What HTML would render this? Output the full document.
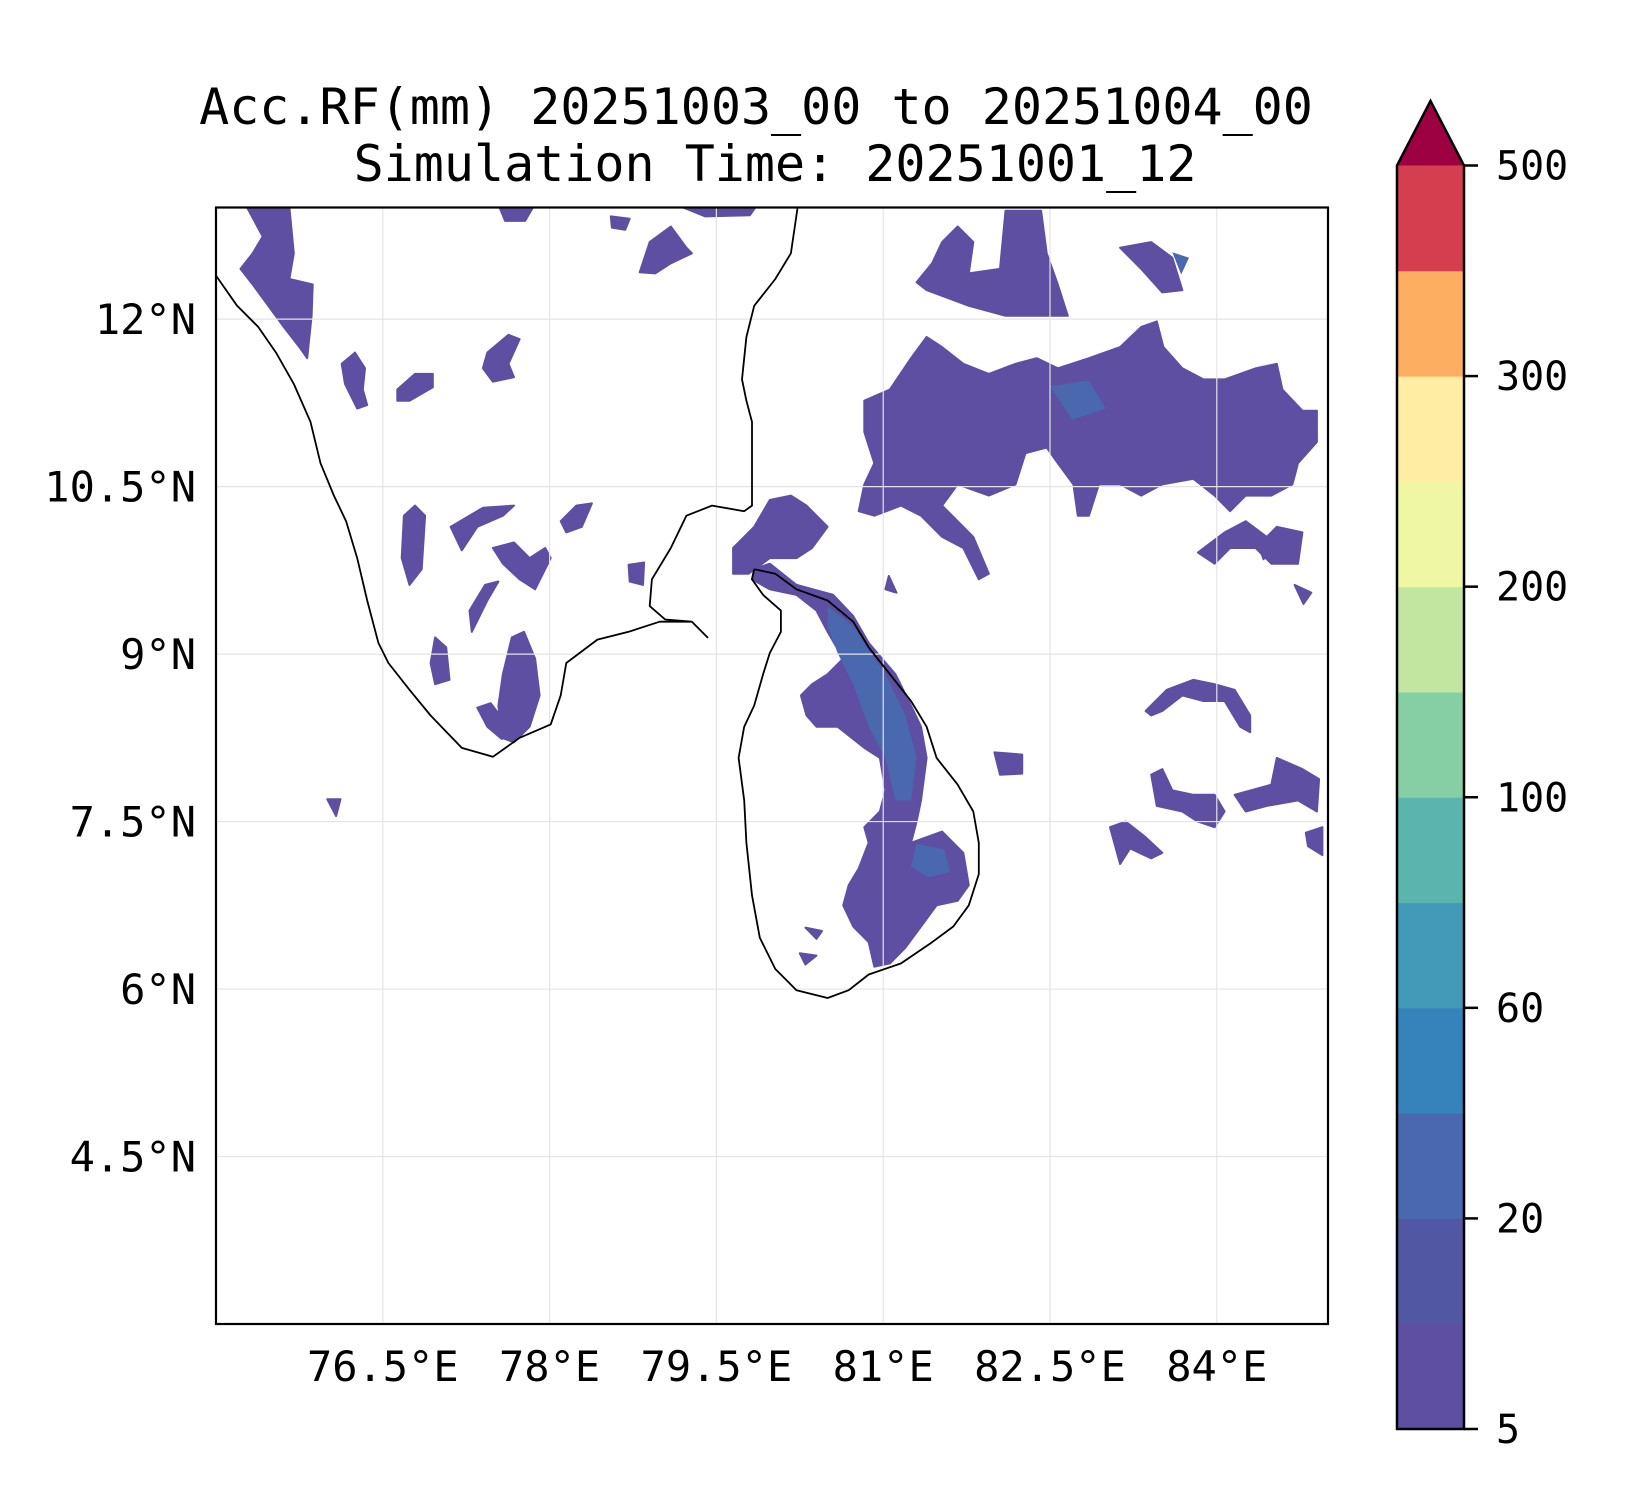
<!DOCTYPE html>
<html><head><meta charset="utf-8"><style>
html,body{margin:0;padding:0;background:#fff;}
svg{display:block;}
text{font-family:"DejaVu Sans Mono","Liberation Mono",monospace;fill:#000;}
</style></head><body>
<svg id="chart" width="1650" height="1500" viewBox="0 0 1650 1500">
<text x="756" y="124" font-size="50" text-anchor="middle">Acc.RF(mm) 20251003_00 to 20251004_00</text>
<text x="775" y="181" font-size="50" text-anchor="middle">Simulation Time: 20251001_12</text>
<g id="map"></g>
<g id="cbar"></g>
</svg>
<script>
const lonTicks=[76.5,78,79.5,81,82.5,84];
const lonLabels=["76.5°E","78°E","79.5°E","81°E","82.5°E","84°E"];
const latTicks=[12,10.5,9,7.5,6,4.5];
const latLabels=["12°N","10.5°N","9°N","7.5°N","6°N","4.5°N"];
const cbLevels=[5,10,20,30,60,80,100,150,200,250,300,400,500];
const cbLabels=["5","","20","","60","","100","","200","","300","","500"];
const cbColors=["#5e4fa2","#5257a3","#4a68ae","#3683bb","#4399b8","#5bb4ad","#86cfa5","#c2e69f","#eff7a5","#feeda2","#fdae61","#d53e4f"];
const cbExtend="#9e0142";
const indiaCoast=[[75,12.39],[75.19,12.12],[75.38,11.93],[75.54,11.70],[75.70,11.42],[75.85,11.08],[75.94,10.71],[76.06,10.42],[76.17,10.19],[76.27,9.86],[76.36,9.48],[76.46,9.10],[76.55,8.92],[76.74,8.68],[76.93,8.45],[77.21,8.16],[77.49,8.08],[77.73,8.25],[78.01,8.37],[78.10,8.63],[78.15,8.92],[78.43,9.13],[78.71,9.20],[78.99,9.29],[79.28,9.29],[79.42,9.15],[79.28,9.29],[79.04,9.31],[78.90,9.43],[78.92,9.67],[79.09,9.95],[79.23,10.24],[79.46,10.33],[79.75,10.28],[79.82,10.33],[79.82,11.08],[79.77,11.27],[79.73,11.46],[79.77,11.84],[79.84,12.12],[80.03,12.36],[80.17,12.59],[80.23,13]];
const lankaCoast=[[79.84,9.76],[80.03,9.72],[80.22,9.58],[80.50,9.48],[80.73,9.29],[80.87,9.06],[81.06,8.82],[81.25,8.58],[81.39,8.35],[81.48,8.07],[81.67,7.83],[81.81,7.59],[81.86,7.31],[81.86,7.03],[81.77,6.75],[81.63,6.56],[81.44,6.42],[81.16,6.23],[80.87,6.13],[80.69,5.99],[80.50,5.92],[80.22,5.99],[80.03,6.18],[79.89,6.46],[79.82,6.84],[79.77,7.31],[79.75,7.69],[79.70,8.07],[79.75,8.35],[79.84,8.54],[79.92,8.82],[79.98,9.01],[80.08,9.20],[80.08,9.39],[79.92,9.53],[79.82,9.67]];
const rainLight=[
[[75.28,13],[75.66,13],[75.70,12.59],[75.66,12.36],[75.87,12.31],[75.86,12.03],[75.82,11.65],[75.75,11.75],[75.61,11.93],[75.47,12.12],[75.33,12.31],[75.22,12.45],[75.33,12.59],[75.42,12.74]],
[[78.90,12.69],[79.09,12.83],[79.23,12.64],[79.28,12.59],[79.09,12.50],[78.95,12.41],[78.81,12.42]],
[[77.44,11.70],[77.63,11.86],[77.73,11.82],[77.63,11.60],[77.68,11.48],[77.49,11.44],[77.40,11.56]],
[[76.13,11.60],[76.25,11.70],[76.34,11.56],[76.32,11.37],[76.36,11.23],[76.27,11.20],[76.16,11.42]],
[[76.63,11.37],[76.79,11.51],[76.95,11.51],[76.95,11.39],[76.74,11.27],[76.63,11.27]],
[[76.69,10.24],[76.79,10.33],[76.88,10.24],[76.85,9.76],[76.74,9.62],[76.67,9.86]],
[[77.11,10.14],[77.40,10.31],[77.68,10.33],[77.58,10.24],[77.35,10.14],[77.21,9.93]],
[[77.49,9.95],[77.68,10.0],[77.82,9.86],[77.96,9.95],[78.01,9.86],[77.87,9.58],[77.73,9.67],[77.58,9.81]],
[[78.10,10.19],[78.24,10.33],[78.38,10.35],[78.29,10.14],[78.15,10.09]],
[[77.66,9.15],[77.77,9.20],[77.87,8.96],[77.91,8.63],[77.82,8.35],[77.68,8.21],[77.57,8.25],[77.54,8.54],[77.58,8.82]],
[[76.97,9.15],[77.07,9.06],[77.10,8.77],[76.97,8.73],[76.93,8.92]],
[[77.28,9.39],[77.42,9.62],[77.54,9.65],[77.44,9.48],[77.30,9.20]],
[[77.35,8.52],[77.47,8.56],[77.63,8.35],[77.57,8.24],[77.44,8.35]],
[[79.84,9.76],[79.98,9.81],[80.22,9.62],[80.55,9.53],[80.73,9.34],[80.87,9.10],[81.11,8.82],[81.25,8.54],[81.34,8.35],[81.39,8.07],[81.34,7.69],[81.30,7.50],[81.25,7.31],[81.53,7.41],[81.72,7.22],[81.77,6.93],[81.67,6.79],[81.48,6.75],[81.34,6.56],[81.20,6.37],[81.06,6.23],[80.92,6.20],[80.87,6.42],[80.73,6.56],[80.64,6.75],[80.69,6.93],[80.78,7.08],[80.87,7.31],[80.83,7.45],[80.97,7.59],[81.02,7.78],[80.97,8.07],[80.83,8.16],[80.59,8.35],[80.40,8.35],[80.31,8.45],[80.26,8.63],[80.36,8.73],[80.50,8.82],[80.64,8.96],[80.50,9.20],[80.40,9.39],[80.22,9.53],[79.98,9.58],[79.82,9.67]],
[[79.65,9.95],[79.84,10.14],[79.98,10.38],[80.17,10.42],[80.31,10.33],[80.50,10.14],[80.36,9.95],[80.22,9.86],[79.98,9.86],[79.79,9.72],[79.65,9.72]],
[[81.44,12.5],[81.53,12.69],[81.67,12.83],[81.81,12.69],[81.77,12.41],[82.05,12.45],[82.10,12.97],[82.42,12.97],[82.47,12.59],[82.57,12.31],[82.66,12.03],[82.38,12.03],[82.10,12.03],[81.77,12.12],[81.39,12.26],[81.30,12.33]],
[[83.13,12.64],[83.41,12.69],[83.60,12.55],[83.69,12.26],[83.51,12.24],[83.32,12.45]],
[[80.83,11.27],[81.06,11.37],[81.25,11.65],[81.39,11.84],[81.53,11.75],[81.72,11.60],[81.95,11.51],[82.19,11.60],[82.38,11.65],[82.57,11.56],[82.85,11.65],[83.13,11.75],[83.32,11.93],[83.46,11.98],[83.52,11.75],[83.69,11.56],[83.88,11.46],[84.07,11.46],[84.35,11.56],[84.54,11.60],[84.59,11.37],[84.77,11.18],[84.90,11.18],[84.90,10.90],[84.73,10.71],[84.68,10.52],[84.49,10.42],[84.26,10.42],[84.12,10.28],[83.98,10.42],[83.79,10.57],[83.51,10.52],[83.32,10.42],[83.13,10.52],[82.94,10.52],[82.85,10.24],[82.75,10.24],[82.71,10.52],[82.57,10.71],[82.47,10.85],[82.28,10.80],[82.19,10.52],[81.95,10.42],[81.67,10.52],[81.53,10.33],[81.81,10.05],[81.95,9.72],[81.86,9.67],[81.72,9.95],[81.53,10.05],[81.34,10.24],[81.16,10.33],[80.92,10.24],[80.78,10.28],[80.83,10.52],[80.92,10.71],[80.83,10.99]],
[[83.83,9.91],[84.07,10.09],[84.26,10.19],[84.45,10.05],[84.54,10.14],[84.77,10.09],[84.73,9.81],[84.49,9.81],[84.35,9.95],[84.12,9.95],[83.98,9.81]],
[[83.36,8.49],[83.55,8.68],[83.79,8.77],[83.98,8.73],[84.16,8.68],[84.30,8.45],[84.30,8.30],[84.21,8.35],[84.07,8.58],[83.88,8.58],[83.69,8.63],[83.51,8.49],[83.41,8.45]],
[[83.41,7.92],[83.51,7.97],[83.60,7.78],[83.79,7.74],[83.98,7.74],[84.07,7.59],[83.98,7.45],[83.83,7.50],[83.69,7.59],[83.46,7.64]],
[[84.16,7.74],[84.49,7.83],[84.54,8.07],[84.77,7.97],[84.92,7.88],[84.90,7.59],[84.73,7.69],[84.45,7.64],[84.26,7.59]],
[[83.04,7.45],[83.18,7.50],[83.36,7.36],[83.51,7.22],[83.41,7.17],[83.22,7.26],[83.13,7.12]],
[[82.0,8.12],[82.25,8.10],[82.25,7.93],[82.05,7.92]],
[[84.80,7.40],[84.95,7.45],[84.95,7.20],[84.82,7.28]],
[[76.0,7.70],[76.12,7.70],[76.08,7.55]],
[[78.71,9.80],[78.85,9.82],[78.84,9.62],[78.72,9.65]],
[[77.55,13],[77.85,13],[77.78,12.88],[77.60,12.88]],
[[78.55,12.92],[78.72,12.90],[78.68,12.80],[78.56,12.82]],
[[79.20,13],[79.85,13],[79.80,12.93],[79.40,12.92]],
[[84.35,10.05],[84.50,9.95],[84.42,9.85]],
[[84.70,9.62],[84.85,9.55],[84.78,9.45]],
[[80.30,6.55],[80.45,6.52],[80.40,6.45]],
[[80.25,6.32],[80.40,6.30],[80.30,6.22]],
[[81.05,9.70],[81.12,9.55],[81.02,9.58]]
];
const rainDark=[
[[80.50,9.43],[80.73,9.25],[81.02,8.82],[81.20,8.45],[81.30,8.07],[81.25,7.69],[81.11,7.69],[81.02,8.07],[80.87,8.35],[80.73,8.73],[80.59,9.01],[80.50,9.25]],
[[81.30,7.30],[81.55,7.25],[81.60,7.05],[81.40,7.00],[81.25,7.10]],
[[82.50,11.40],[82.85,11.45],[83.0,11.2],[82.7,11.1]],
[[83.75,12.55],[83.60,12.60],[83.68,12.40]]
];
const NS="http://www.w3.org/2000/svg";
const L=216,T=207.5,W=1112,H=1116.5;
const X=lon=>L+(lon-75)/10*W;
const Y=lat=>T+(13-lat)/10*H;
const map=document.getElementById('map');
const cbar=document.getElementById('cbar');
function mk(tag,attrs,parent){const e=document.createElementNS(NS,tag);for(const k in attrs)e.setAttribute(k,attrs[k]);parent.appendChild(e);return e;}
const pts=p=>p.map(q=>X(q[0]).toFixed(1)+","+Y(q[1]).toFixed(1)).join(" ");
const defs=mk('defs',{},map);
const cp=mk('clipPath',{id:'ax'},defs);
mk('rect',{x:L,y:T,width:W,height:H},cp);
const g=mk('g',{'clip-path':'url(#ax)'},map);
rainLight.forEach(p=>{
  const e=mk('polygon',{points:pts(p),fill:cbColors[0],stroke:cbColors[0],'stroke-width':2,'stroke-linejoin':'round'},g);
  
  
});
rainDark.forEach(p=>{
  const e=mk('polygon',{points:pts(p),fill:cbColors[2],'stroke-linejoin':'round'},g);
  
  
});
lonTicks.forEach(v=>{
  const e=mk('line',{x1:X(v),x2:X(v),y1:T,y2:T+H,stroke:'#e4e4e4','stroke-width':1.2},g);
  
  
});
latTicks.forEach(v=>{
  const e=mk('line',{x1:L,x2:L+W,y1:Y(v),y2:Y(v),stroke:'#e4e4e4','stroke-width':1.2},g);
  
  
});
[indiaCoast,lankaCoast].forEach((c,i)=>{
  const e=mk('polyline',{points:pts(c)+(i?" "+pts([c[0]]):""),fill:'none',stroke:'#000','stroke-width':1.8,'stroke-linejoin':'round'},g);
  
  
});
const fr=mk('rect',{x:L,y:T,width:W,height:H,fill:'none',stroke:'#000','stroke-width':2.2},map);


lonTicks.forEach((v,i)=>{
  const t=mk('text',{x:X(v),y:1381,'font-size':42,'text-anchor':'middle'},map);
  t.textContent=lonLabels[i];
  
  
});
latTicks.forEach((v,i)=>{
  const t=mk('text',{x:196,y:Y(v)+15,'font-size':42,'text-anchor':'end'},map);
  t.textContent=latLabels[i];
  
  
});
const CL=1397,CR=1464,CT=165.5,CB=1429,n=cbColors.length,bh=(CB-CT)/n;
cbColors.forEach((c,i)=>{
  const r=mk('rect',{x:CL,y:CB-(i+1)*bh,width:CR-CL,height:bh+0.5,fill:c},cbar);
  
  
});
const tri=mk('polygon',{points:`${CL},${CT} ${CR},${CT} ${(CL+CR)/2},101`,fill:cbExtend},cbar);


mk('path',{d:`M${CL},${CB} L${CL},${CT} L${(CL+CR)/2},101 L${CR},${CT} L${CR},${CB} Z`,fill:'none',stroke:'#000','stroke-width':2.5},cbar);
cbLevels.forEach((v,i)=>{
  if(!cbLabels[i])return;
  const y=CB-i*bh;
  mk('line',{x1:CR,x2:CR+14,y1:y,y2:y,stroke:'#000','stroke-width':2.5},cbar);
  const t=mk('text',{x:CR+32,y:y+14,'font-size':40},cbar);
  t.textContent=cbLabels[i];
  
  
});
</script>
</body></html>
